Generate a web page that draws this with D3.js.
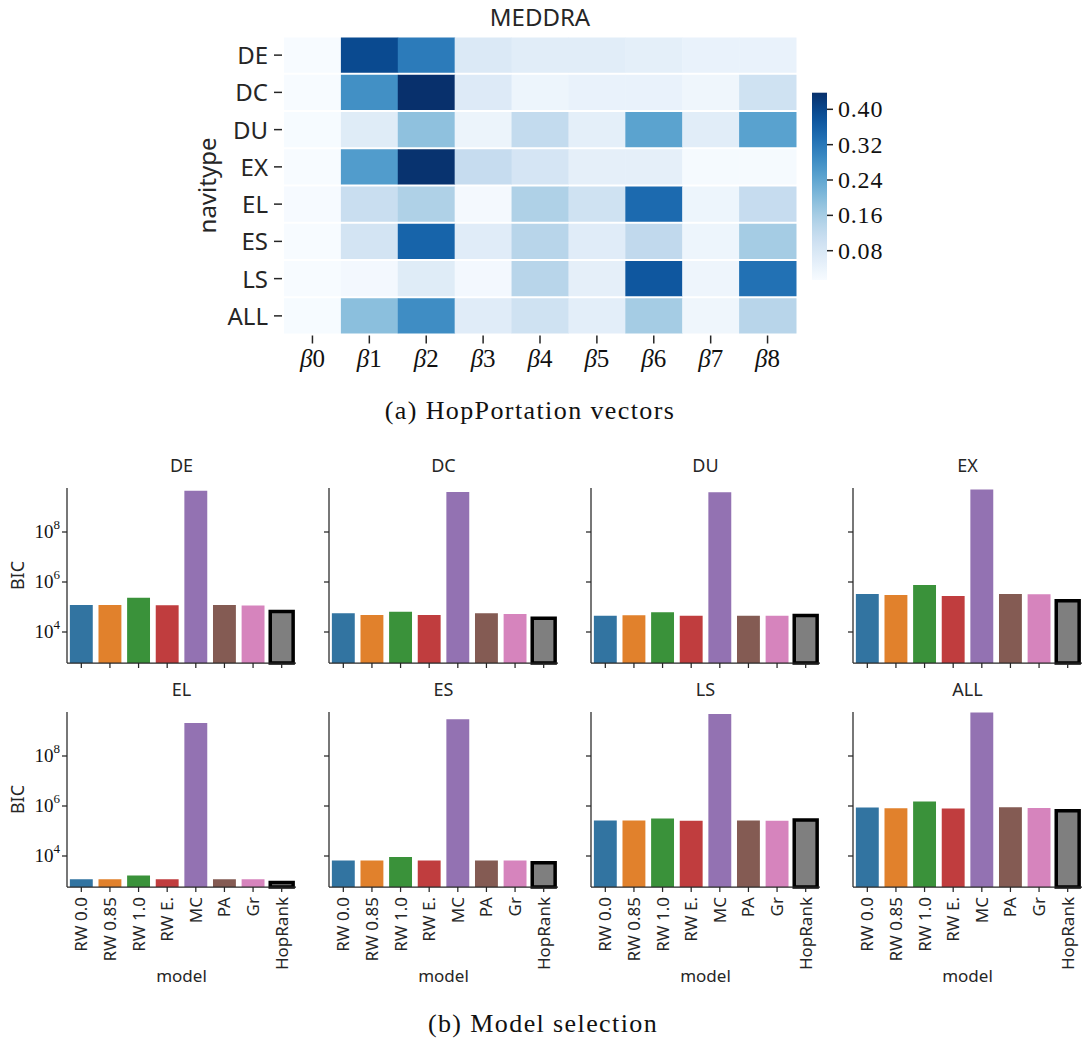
<!DOCTYPE html>
<html>
<head>
<meta charset="utf-8">
<script src="https://cdn.jsdelivr.net/npm/d3@7"></script>
<style>
  html, body { margin: 0; padding: 0; background: #fff; }
  svg { display: block; }
  .sans { font-family: "Noto Sans", "Open Sans", sans-serif; fill: #262626; }
  .serif { font-family: "Liberation Serif", "DejaVu Serif", serif; fill: #111; }
</style>
</head>
<body>
<svg id="fig" width="1087" height="1042"></svg>
<script>
// ---- Heatmap data: HopPortation vectors (rows = navitype, cols = beta) ----
const navitypes = ["DE", "DC", "DU", "EX", "EL", "ES", "LS", "ALL"];
const betas = ["0", "1", "2", "3", "4", "5", "6", "7", "8"];
const hopDE  = [0.014, 0.395, 0.315, 0.073, 0.060, 0.060, 0.054, 0.043, 0.043];
const hopDC  = [0.014, 0.281, 0.437, 0.069, 0.035, 0.043, 0.043, 0.031, 0.098];
const hopDU  = [0.015, 0.065, 0.188, 0.037, 0.120, 0.054, 0.247, 0.060, 0.249];
const hopEX  = [0.014, 0.260, 0.433, 0.115, 0.086, 0.052, 0.052, 0.018, 0.018];
const hopEL  = [0.016, 0.110, 0.149, 0.020, 0.149, 0.098, 0.344, 0.035, 0.115];
const hopES  = [0.014, 0.090, 0.353, 0.062, 0.137, 0.062, 0.124, 0.035, 0.162];
const hopLS  = [0.014, 0.022, 0.065, 0.022, 0.137, 0.052, 0.374, 0.033, 0.332];
const hopALL = [0.015, 0.192, 0.285, 0.062, 0.098, 0.056, 0.162, 0.031, 0.137];
const hopRows = [hopDE, hopDC, hopDU, hopEX, hopEL, hopES, hopLS, hopALL];
const colorbarTicks = [0.08, 0.16, 0.24, 0.32, 0.40];
const colorDomain = [0.0137, 0.4376];

// ---- Bar data: BIC per model (log10 of the value) for each navitype ----
const models = ["RW 0.0", "RW 0.85", "RW 1.0", "RW E.", "MC", "PA", "Gr", "HopRank"];
const modelColors = ["#3274a1", "#e1812c", "#3a923a", "#c03d3e", "#9372b2", "#845b53", "#d684bd", "#7f7f7f"];
const bicDE  = [5.08, 5.08, 5.37, 5.07, 9.65, 5.08, 5.06, 4.82];
const bicDC  = [4.75, 4.68, 4.81, 4.68, 9.60, 4.75, 4.72, 4.55];
const bicDU  = [4.65, 4.67, 4.79, 4.65, 9.59, 4.65, 4.65, 4.66];
const bicEX  = [5.52, 5.48, 5.88, 5.44, 9.70, 5.52, 5.51, 5.25];
const bicEL  = [3.07, 3.07, 3.22, 3.07, 9.32, 3.07, 3.07, 2.94];
const bicES  = [3.82, 3.82, 3.96, 3.82, 9.47, 3.82, 3.82, 3.73];
const bicLS  = [5.42, 5.42, 5.50, 5.41, 9.68, 5.42, 5.41, 5.44];
const bicALL = [5.94, 5.91, 6.18, 5.90, 9.74, 5.95, 5.92, 5.81];
const bicPanels = [bicDE, bicDC, bicDU, bicEX, bicEL, bicES, bicLS, bicALL];
const bicTicks = [1e4, 1e6, 1e8];
const bicDomain = [Math.pow(10, 2.76), Math.pow(10, 9.76)];

const svg = d3.select("#fig");

// =================== (a) heatmap ===================
const hm = { x0: 284, x1: 796, y0: 36.5, y1: 334.5 };
const xHm = d3.scaleBand().domain(betas).range([hm.x0, hm.x1]);
const yHm = d3.scaleBand().domain(navitypes).range([hm.y0, hm.y1]);
const color = d3.scaleSequential(d3.interpolateBlues).domain(colorDomain);

const gHm = svg.append("g");
hopRows.forEach((row, i) => {
  gHm.selectAll(null).data(row).enter().append("rect")
    .attr("x", (d, j) => xHm(betas[j]))
    .attr("y", yHm(navitypes[i]) + 1)
    .attr("width", xHm.bandwidth() + 0.5)
    .attr("height", yHm.bandwidth() - 2)
    .attr("fill", d => color(d));
});

// row ticks and labels
navitypes.forEach(n => {
  const cy = yHm(n) + yHm.bandwidth() / 2;
  gHm.append("line").attr("x1", hm.x0 - 10).attr("x2", hm.x0 - 2)
    .attr("y1", cy).attr("y2", cy).attr("stroke", "#262626").attr("stroke-width", 1.5);
  gHm.append("text").attr("class", "sans").attr("x", hm.x0 - 16).attr("y", cy + 9)
    .attr("text-anchor", "end").attr("font-size", 24).text(n);
});
// column ticks and labels
betas.forEach(b => {
  const cx = xHm(b) + xHm.bandwidth() / 2;
  gHm.append("line").attr("x1", cx).attr("x2", cx)
    .attr("y1", hm.y1 + 1).attr("y2", hm.y1 + 9).attr("stroke", "#262626").attr("stroke-width", 1.5);
  const t = gHm.append("text").attr("class", "serif").attr("x", cx).attr("y", 367)
    .attr("text-anchor", "middle").attr("font-size", 25);
  t.append("tspan").attr("font-style", "italic").text("β");
  t.append("tspan").text(b);
});
gHm.append("text").attr("class", "sans").attr("x", (hm.x0 + hm.x1) / 2).attr("y", 26)
  .attr("text-anchor", "middle").attr("font-size", 24).text("MEDDRA");
gHm.append("text").attr("class", "sans")
  .attr("transform", `translate(216,${(hm.y0 + hm.y1) / 2}) rotate(-90)`)
  .attr("text-anchor", "middle").attr("font-size", 24).text("navitype");

// colorbar
const cb = { x: 812, w: 15, y0: 92.7, y1: 280 };
const defs = svg.append("defs");
const grad = defs.append("linearGradient").attr("id", "blues")
  .attr("x1", 0).attr("y1", 1).attr("x2", 0).attr("y2", 0);
d3.range(0, 1.0001, 0.05).forEach(t => {
  grad.append("stop").attr("offset", t).attr("stop-color", d3.interpolateBlues(t));
});
svg.append("rect").attr("x", cb.x).attr("y", cb.y0).attr("width", cb.w)
  .attr("height", cb.y1 - cb.y0).attr("fill", "url(#blues)");
const yCb = d3.scaleLinear().domain(colorDomain).range([cb.y1, cb.y0]);
colorbarTicks.forEach(v => {
  const y = yCb(v);
  svg.append("line").attr("x1", cb.x + cb.w).attr("x2", cb.x + cb.w + 6)
    .attr("y1", y).attr("y2", y).attr("stroke", "#222").attr("stroke-width", 1.5);
  svg.append("text").attr("class", "serif").attr("x", cb.x + cb.w + 11).attr("y", y + 8)
    .attr("font-size", 24).attr("letter-spacing", 0.8).text(v.toFixed(2));
});

svg.append("text").attr("class", "serif").attr("x", 530).attr("y", 419)
  .attr("text-anchor", "middle").attr("font-size", 26).attr("letter-spacing", 1.4)
  .text("(a) HopPortation vectors");

// =================== (b) bar panels ===================
const panelW = 229;
const panelX = [67, 329, 591, 853];
const panelRows = [{ top: 488, bottom: 663 }, { top: 712, bottom: 887 }];

bicPanels.forEach((vals, p) => {
  const col = p % 4, row = Math.floor(p / 4);
  const x0 = panelX[col];
  const { top, bottom } = panelRows[row];
  const g = svg.append("g");
  const x = d3.scaleBand().domain(models).range([x0, x0 + panelW])
    .paddingInner(0.2).paddingOuter(0.1);
  const y = d3.scaleLog().domain(bicDomain).range([bottom, top]);

  g.selectAll("rect").data(vals).enter().append("rect")
    .attr("x", (d, i) => x(models[i]))
    .attr("width", x.bandwidth())
    .attr("y", d => y(Math.pow(10, d)))
    .attr("height", d => bottom - y(Math.pow(10, d)))
    .attr("fill", (d, i) => modelColors[i])
    .attr("stroke", (d, i) => models[i] === "HopRank" ? "#000" : "none")
    .attr("stroke-width", 3.5);

  // spines
  g.append("line").attr("x1", x0).attr("x2", x0).attr("y1", top).attr("y2", bottom)
    .attr("stroke", "#262626").attr("stroke-width", 1.25);
  g.append("line").attr("x1", x0).attr("x2", x0 + panelW).attr("y1", bottom).attr("y2", bottom)
    .attr("stroke", "#262626").attr("stroke-width", 1.25);

  // y ticks
  bicTicks.forEach(v => {
    const ty = y(v);
    g.append("line").attr("x1", x0 - 5).attr("x2", x0).attr("y1", ty).attr("y2", ty)
      .attr("stroke", "#262626").attr("stroke-width", 1.25);
    if (col === 0) {
      const t = g.append("text").attr("class", "serif").attr("x", x0 - 7).attr("y", ty + 6)
        .attr("text-anchor", "end").attr("font-size", 19);
      t.append("tspan").text("10");
      t.append("tspan").attr("font-size", 13).attr("dy", -9).text(Math.round(Math.log10(v)));
    }
  });
  // x ticks
  models.forEach(m => {
    const cx = x(m) + x.bandwidth() / 2;
    g.append("line").attr("x1", cx).attr("x2", cx).attr("y1", bottom).attr("y2", bottom + 5)
      .attr("stroke", "#262626").attr("stroke-width", 1.25);
    if (row === 1) {
      g.append("text").attr("class", "sans")
        .attr("transform", `translate(${cx + 6},${bottom + 10}) rotate(-90)`)
        .attr("text-anchor", "end").attr("font-size", 17).text(m);
    }
  });
  // panel title
  g.append("text").attr("class", "sans").attr("x", x0 + panelW / 2).attr("y", top - 16)
    .attr("text-anchor", "middle").attr("font-size", 18).text(navitypes[p]);
  if (col === 0) {
    g.append("text").attr("class", "sans")
      .attr("transform", `translate(24,${(top + bottom) / 2}) rotate(-90)`)
      .attr("text-anchor", "middle").attr("font-size", 18).text("BIC");
  }
  if (row === 1) {
    g.append("text").attr("class", "sans").attr("x", x0 + panelW / 2).attr("y", 982)
      .attr("text-anchor", "middle").attr("font-size", 17).text("model");
  }
});

svg.append("text").attr("class", "serif").attr("x", 543).attr("y", 1032)
  .attr("text-anchor", "middle").attr("font-size", 26).attr("letter-spacing", 1.4)
  .text("(b) Model selection");
</script>
</body>
</html>
